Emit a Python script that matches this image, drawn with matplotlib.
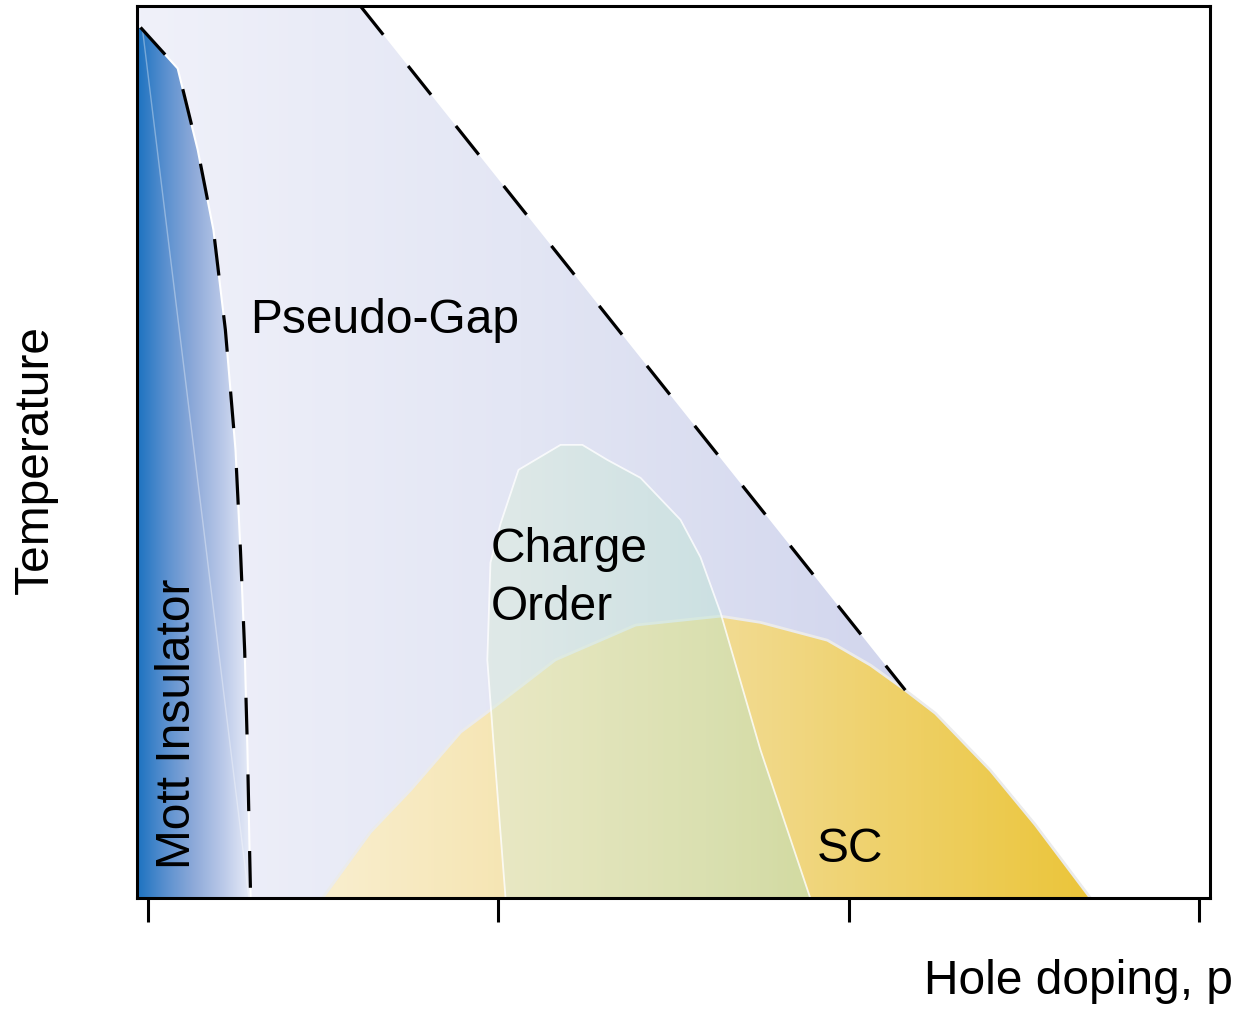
import numpy as np
import matplotlib
matplotlib.use("Agg")
import matplotlib.pyplot as plt
from matplotlib.colors import LinearSegmentedColormap
from matplotlib.patches import Polygon

plt.rcParams['font.family'] = ['Liberation Sans', 'DejaVu Sans']

# Schematic cuprate phase diagram: doping p vs temperature (arbitrary units)
p_min, p_max = -0.003, 0.303
dop_ticks = [0.0, 0.1, 0.2, 0.3]

# Mott insulator boundary (top to bottom)
mott_p = [-0.002, 0.0086, 0.0143, 0.0188, 0.0222, 0.0251, 0.0265, 0.0277, 0.0285, 0.0294]
mott_T = [0.976, 0.930, 0.839, 0.749, 0.637, 0.502, 0.390, 0.278, 0.166, 0.0]

# Pseudo-gap T* line
pg_p = [0.0607, 0.2161]
pg_T = [1.0, 0.233]

# Superconducting dome
sc_p = [0.0499, 0.0636, 0.0750, 0.0893, 0.0978, 0.1163, 0.1392, 0.1634, 0.1748, 0.1939,
        0.2062, 0.2161, 0.2247, 0.2404, 0.2532, 0.2689]
sc_T = [0.0, 0.074, 0.121, 0.186, 0.211, 0.267, 0.306, 0.316, 0.309, 0.289,
        0.261, 0.233, 0.207, 0.143, 0.082, 0.0]

# Charge order dome
co_p = [0.1021, 0.0984, 0.0969, 0.0978, 0.1007, 0.1058, 0.1178, 0.1240, 0.1312, 0.1406,
        0.1520, 0.1577, 0.1634, 0.1748, 0.1890]
co_T = [0.0, 0.188, 0.267, 0.376, 0.420, 0.480, 0.508, 0.508, 0.491, 0.471,
        0.424, 0.382, 0.320, 0.166, 0.0]

fig = plt.figure(figsize=(12.39, 10.09), dpi=100)
ax = fig.add_axes([137 / 1239, 1 - 898 / 1009, 1073 / 1239, 892 / 1009])
ax.set_xlim(p_min, p_max)
ax.set_ylim(0, 1)


def gradient_fill(ax, xs, ys, colors, x0, x1, alpha=1.0, zorder=1):
    cmap = LinearSegmentedColormap.from_list('g', colors)
    grad = np.linspace(0, 1, 256).reshape(1, -1)
    im = ax.imshow(grad, cmap=cmap, extent=[x0, x1, 0, 1], aspect='auto',
                   origin='lower', alpha=alpha, zorder=zorder, interpolation='bilinear')
    poly = Polygon(np.column_stack([xs, ys]), closed=True, facecolor='none',
                   edgecolor='none', transform=ax.transData)
    ax.add_patch(poly)
    im.set_clip_path(poly)
    return im


# pseudo-gap region
pg_xs = [p_min, pg_p[0], pg_p[1], pg_p[1], p_min]
pg_ys = [1.0, pg_T[0], pg_T[1], 0.0, 0.0]
gradient_fill(ax, pg_xs, pg_ys, ['#f0f1fa', '#e3e6f4', '#d1d5ed'], p_min, pg_p[1], zorder=1)

# superconducting dome
gradient_fill(ax, sc_p, sc_T, ['#f9eece', '#f2dc96', '#ebc53a'], sc_p[0], sc_p[-1],
              zorder=2)
ax.plot(sc_p, sc_T, color='#ebebeb', lw=2.0, zorder=2.2)

# charge order dome (translucent)
gradient_fill(ax, co_p, co_T, ['#dbecd8', '#afe2d0'], min(co_p), max(co_p),
              alpha=0.45, zorder=3)
ax.plot(co_p, co_T, color='white', lw=1.3, alpha=0.8, zorder=3.2)

# Mott insulator
m_xs = [p_min] + mott_p + [p_min]
m_ys = [mott_T[0]] + mott_T + [0.0]
gradient_fill(ax, m_xs, m_ys, ['#1c72c0', '#5a90cf', '#8eaad9', '#b9c8e8', '#e8ecf8'],
              p_min, max(mott_p), zorder=4)
ax.plot(mott_p, mott_T, color='white', lw=1.5, zorder=4.1)
ax.plot([mott_p[0] + 0.0005, mott_p[-1] - 0.0005], [mott_T[0], 0.0],
        color='white', lw=1.0, alpha=0.35, zorder=4.2)

# crossover lines
ax.plot(mott_p, mott_T, color='black', lw=2.3, dashes=(11.5, 12.5), zorder=5)
ax.plot(pg_p, pg_T, color='black', lw=2.3, dashes=(11.5, 12.5), zorder=5)

# labels
fs = 34.5
ax.text(0.0294, 0.647, 'Pseudo-Gap', fontsize=fs, ha='left', va='center', zorder=6)
ax.text(0.0978, 0.358, 'Charge\nOrder', fontsize=fs, ha='left', va='center',
        linespacing=1.37, zorder=6)
ax.text(0.191, 0.054, 'SC', fontsize=fs, ha='left', va='center', zorder=6)
ax.text(0.0085, 0.195, 'Mott Insulator', fontsize=fs, rotation=90,
        ha='center', va='center', zorder=6)

fig.text(1233 / 1239, 1 - 982 / 1009, 'Hole doping, p', fontsize=fs,
         ha='right', va='center')
fig.text(35 / 1239, 1 - 460 / 1009, 'Temperature', fontsize=fs, rotation=90,
         ha='center', va='center')

# axes styling
for s in ax.spines.values():
    s.set_linewidth(2.2)
    s.set_zorder(7)
ax.set_xticks(dop_ticks)
ax.set_xticks(dop_ticks, minor=True)
ax.set_xticklabels([])
ax.set_yticks([])
ax.tick_params(axis='x', which='major', direction='out', length=17.5, width=2.2)
ax.tick_params(axis='x', which='minor', direction='in', length=3.5, width=2.2)

fig.savefig('out.png', dpi=100)
